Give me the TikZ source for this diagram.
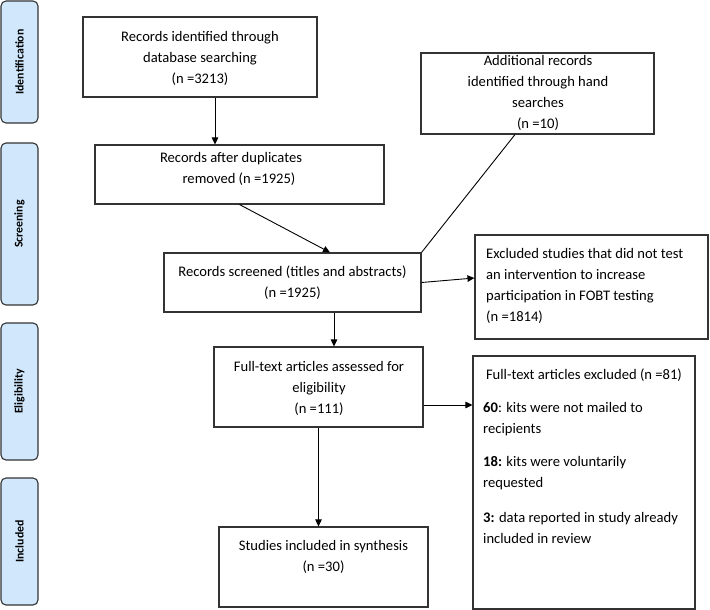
\documentclass[tikz,border=0pt]{standalone}
\usepackage{fontspec}
\setmainfont{Carlito}
\usetikzlibrary{arrows.meta}
\definecolor{sidefill}{HTML}{D0E7FC}
\definecolor{edge}{HTML}{333333}
\tikzset{
  box/.style={draw=edge, line width=1.1pt, rectangle, inner sep=0pt},
  side/.style={draw=edge, line width=1.1pt, fill=sidefill, rounded corners=5pt, inner sep=0pt, rotate=90, font=\fontsize{11.8}{14}\selectfont\bfseries},
  txt/.style={inner sep=0pt, align=center, font=\fontsize{14.6}{21}\selectfont},
  ltxt/.style={inner sep=0pt, align=left, anchor=west, font=\fontsize{14.6}{21}\selectfont},
  arr/.style={draw=black, line width=0.9pt, -{Triangle[length=7pt,width=6.5pt]}},
  ln/.style={draw=black, line width=0.9pt}
}
\begin{document}
\begin{tikzpicture}[x=1pt,y=-1pt]
\useasboundingbox (0,0) rectangle (710,610);
% side labels
\node[side, minimum width=122pt, minimum height=37pt] (s1) at (19.5,62) {Identification};
\node[side, minimum width=162pt, minimum height=37pt] (s2) at (19.5,224) {Screening};
\node[side, minimum width=137pt, minimum height=37pt] (s3) at (19.5,391.5) {Eligibility};
\node[side, minimum width=127pt, minimum height=37pt] (s4) at (19.5,541.5) {Included};
% boxes
\node[box, minimum width=234pt, minimum height=80pt] (b1) at (200,57) {};
\node[box, minimum width=289pt, minimum height=59pt] (b2) at (239.5,174.5) {};
\node[box, minimum width=233pt, minimum height=81pt] (h) at (537.5,93.5) {};
\node[box, minimum width=257pt, minimum height=59pt] (b3) at (292.5,282.5) {};
\node[box, minimum width=233pt, minimum height=104pt] (e1) at (591.5,287) {};
\node[box, minimum width=209pt, minimum height=80pt] (b4) at (318.5,387) {};
\node[box, minimum width=222pt, minimum height=253pt] (e2) at (584,482.5) {};
\node[box, minimum width=209pt, minimum height=80pt] (b5) at (323.5,567) {};
% texts
\node[txt] (t1) at (200,58.5) {Records identified through\\database searching\\(n =3213)};
\node[txt] (t2) at (231,168.5) {Records after duplicates\\\hspace*{16pt}removed (n =1925)};
\node[txt] (th) at (538,93) {Additional records\\identified through hand\\searches\\(n =10)};
\node[txt] (t3) at (292.5,282.5) {Records screened (titles and abstracts)\\(n =1925)};
\node[ltxt] (te1) at (486,286) {Excluded studies that did not test\\an intervention to increase\\participation in FOBT testing\\(n =1814)};
\node[txt] (t4) at (319,388) {Full-text articles assessed for\\eligibility\\(n =111)};
\node[txt] (te2) at (584,375) {Full-text articles excluded (n =81)};
\node[ltxt] (i1) at (483,419.5) {\textbf{60}: kits were not mailed to\\recipients};
\node[ltxt] (i2) at (483,473.5) {\textbf{18:} kits were voluntarily\\requested};
\node[ltxt] (i3) at (483,527.5) {\textbf{3:} data reported in study already\\included in review};
\node[txt] (t5) at (323.5,556.5) {Studies included in synthesis\\(n =30)};
% connectors
\draw[arr] ([xshift=15pt]b1.south) -- ([xshift=15pt]b1.south |- b2.north);
\draw[arr] (b2.south) -- ([xshift=37.5pt]b3.north);
\draw[ln] ([xshift=-22.5pt]h.south) -- (b3.north east);
\draw[arr] (b3.east) -- ([yshift=9pt]e1.west);
\draw[arr] ([xshift=41.5pt]b3.south) -- ([xshift=41.5pt]b3.south |- b4.north);
\draw[arr] ([yshift=-18pt]b4.east) -- ([yshift=-18pt]b4.east -| e2.west);
\draw[arr] (b4.south) -- (b4.south |- b5.north);
\end{tikzpicture}
\end{document}
